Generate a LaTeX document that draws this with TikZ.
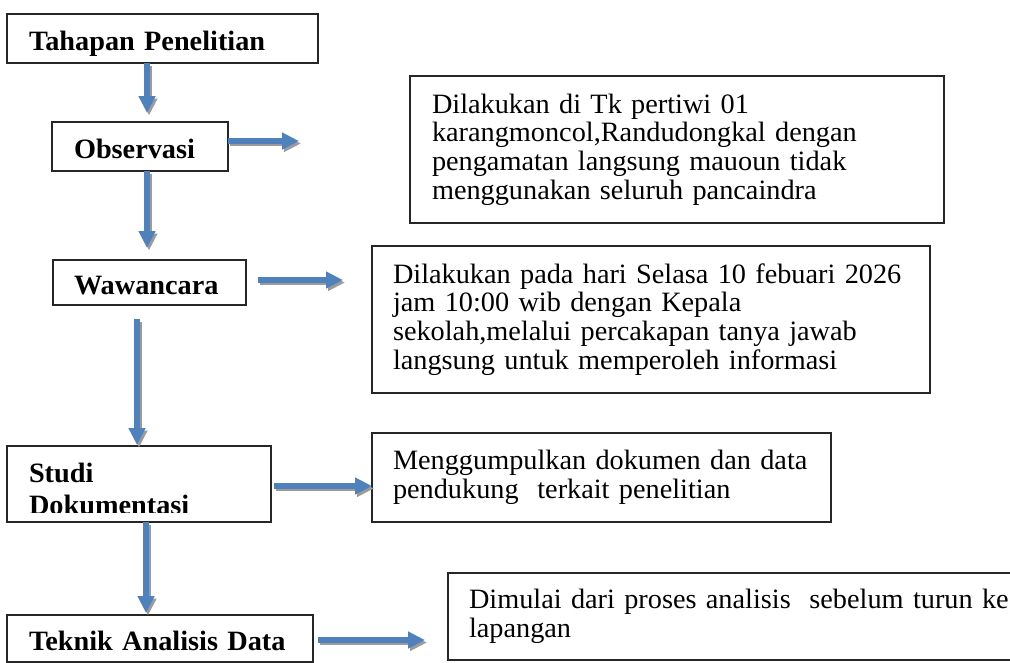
\documentclass[tikz,border=0pt]{standalone}
\usepackage{fontspec}
\setmainfont{Liberation Serif}[FakeStretch=1.01]
\usetikzlibrary{arrows.meta}
\definecolor{flowblue}{HTML}{4F81BD}
\definecolor{shadowgray}{HTML}{9B9B9B}
\newcommand\stagefont{\fontsize{28}{28.7}\selectfont}
\tikzset{
  stepbox/.style={draw=black!85, line width=1.2pt, rectangle, anchor=north west, outer sep=0pt,
    inner ysep=3pt, align=left, font=\stagefont\bfseries, text height=23pt, text depth=0pt},
  notebox/.style={draw=black!85, line width=1.2pt, rectangle, anchor=north west, outer sep=0pt,
    inner xsep=21pt, inner ysep=3pt, align=left, font=\stagefont},
  flow/.style={draw=flowblue, line width=5.5pt, -{Triangle[width=16pt,length=17pt]}},
  flowshadow/.style={flow, draw=shadowgray, transform canvas={shift={(2pt,-2.5pt)}}}
}
\begin{document}
\begin{tikzpicture}[x=1pt, y=-1pt]
	\useasboundingbox (0,0) rectangle (1010,662);
	\clip (0,0) rectangle (1010,662);
	% tahapan (kiri)
	\node (tahap)[stepbox, minimum width=311, minimum height=49, inner xsep=22pt, text width=267pt] at (7,14) {Tahapan Penelitian};
	\node (obs)[stepbox, minimum width=176, minimum height=49, inner xsep=22pt, text width=132pt] at (52,122) {Observasi};
	\node (waw)[stepbox, minimum width=193, minimum height=45, inner xsep=21pt, text width=151pt] at (53,260) {Wawancara};
	\begin{scope}
		\clip (0,440) rectangle (300,512);
		\node (studi)[stepbox, draw=none, minimum width=264, minimum height=76, inner xsep=22pt, text width=220pt,
			text height=20pt, text depth=24pt] at (7,446) {Studi\\[4pt]Dokumentasi};
	\end{scope}
	\draw[black!85, line width=1.2pt] (studi.north west) rectangle (studi.south east);
	\node (teknik)[stepbox, minimum width=306, minimum height=47, inner xsep=22pt, text width=262pt] at (7,615) {Teknik Analisis Data};
	% keterangan (kanan)
	\node (obsnote)[notebox, minimum width=534, minimum height=147, inner xsep=22pt, text width=490pt] at (410,76)
		{Dilakukan di Tk pertiwi 01\\karangmoncol,Randudongkal dengan\\pengamatan langsung mauoun tidak\\menggunakan seluruh pancaindra};
	\node (wawnote)[notebox, minimum width=558, minimum height=147, text width=516pt] at (372,246)
		{Dilakukan pada hari Selasa 10 febuari 2026\\jam 10:00 wib dengan Kepala\\sekolah,melalui percakapan tanya jawab\\langsung untuk memperoleh informasi};
	\node (studinote)[notebox, minimum width=459, minimum height=89, text width=417pt] at (372,433)
		{Menggumpulkan dokumen dan data\\pendukung\ \ terkait penelitian};
	\node (teknote)[notebox, minimum width=600, minimum height=87, text width=558pt] at (448,573)
		{Dimulai dari proses analisis\ \ sebelum turun ke\\lapangan};
	% ujung panah
	\coordinate (a1) at (147,113);
	\coordinate (a2) at (147,248);
	\coordinate (a3) at (137,445);
	\coordinate (a4) at (146,613);
	\coordinate (h1) at (299,141);
	\coordinate (h2) at (343,280);
	\coordinate (h3) at (372,486);
	\coordinate (h4) at (425,640);
	\foreach \s/\e/\g in {tahap/a1/0, obs/a2/0, waw/a3/14, studi/a4/0}
	{
		\draw[flowshadow, shorten <=\g pt](\s.south -| \e)--(\e);
		\draw[flow, shorten <=\g pt](\s.south -| \e)--(\e);
	}
	\foreach \s/\e/\g in {obs/h1/0, waw/h2/12, studi/h3/3, teknik/h4/5}
	{
		\draw[flowshadow, shorten <=\g pt](\s.east |- \e)--(\e);
		\draw[flow, shorten <=\g pt](\s.east |- \e)--(\e);
	}
\end{tikzpicture}
\end{document}
